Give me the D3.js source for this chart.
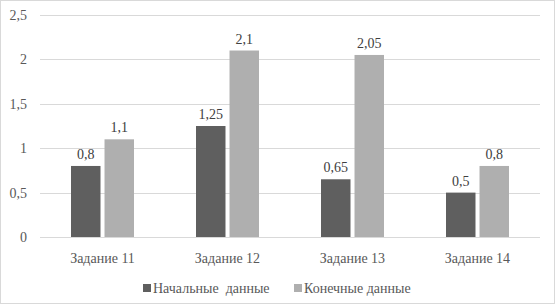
<!DOCTYPE html>
<html>
<head>
<meta charset="utf-8">
<script src="https://cdn.jsdelivr.net/npm/d3@7"></script>
<style>
  body { margin: 0; background: #fff; }
  .chart text { font-family: "Liberation Serif", Tinos, "Noto Serif", "DejaVu Serif", serif; }
</style>
</head>
<body>
<div class="chart"></div>
<script>
const WIDTH = 555
const HEIGHT = 304
const CATEGORIES = ["Задание 11", "Задание 12", "Задание 13", "Задание 14"]
const SERIES = ["Начальные  данные", "Конечные данные"]
const START_VALUES = [0.8, 1.25, 0.65, 0.5]
const END_VALUES = [1.1, 2.1, 2.05, 0.8]
const Y_TICKS = [0, 0.5, 1, 1.5, 2, 2.5]
const COLORS = ["#5f5f5f", "#afafaf"]

const fmt = v => String(v).replace(".", ",")

let svg = d3.select(".chart").append("svg").attr("width", WIDTH).attr("height", HEIGHT);

// border
svg.append("rect").attr("x", 0.5).attr("y", 0.5).attr("width", WIDTH - 1).attr("height", HEIGHT - 1)
  .attr("fill", "#fff").attr("stroke", "#d9d9d9");

// scales
let x0 = d3.scaleBand().domain(CATEGORIES).range([40, 540]);
let x1 = d3.scaleBand().domain([0, 1]).range([0, 63]).paddingInner(0.12);
let y = d3.scaleLinear().domain([0, 2.5]).range([237, 15]);

// grid
svg.append("g").selectAll("line").data(Y_TICKS).join("line")
  .attr("x1", 40).attr("x2", 540)
  .attr("y1", d => Math.round(y(d)) + 0.5).attr("y2", d => Math.round(y(d)) + 0.5)
  .attr("stroke", "#d9d9d9").attr("stroke-width", 1);

// y tick labels
svg.append("g").selectAll("text").data(Y_TICKS).join("text")
  .attr("x", 27).attr("y", d => y(d)).attr("dy", "0.35em")
  .attr("text-anchor", "end").attr("font-size", 14).attr("fill", "#595959")
  .text(fmt);

// bars
let rows = CATEGORIES.map((c, i) => ({ cat: c, vals: [START_VALUES[i], END_VALUES[i]] }));
let groups = svg.append("g").selectAll("g").data(rows).join("g")
  .attr("transform", d => `translate(${x0(d.cat) + (x0.bandwidth() - 63) / 2}, 0)`);

groups.selectAll("rect").data(d => d.vals).join("rect")
  .attr("x", (d, i) => x1(i)).attr("width", x1.bandwidth())
  .attr("y", d => y(d)).attr("height", d => y(0) - y(d))
  .attr("fill", (d, i) => COLORS[i]);

groups.selectAll("text").data(d => d.vals).join("text")
  .attr("x", (d, i) => x1(i) + x1.bandwidth() / 2).attr("y", d => y(d) - 7)
  .attr("text-anchor", "middle").attr("font-size", 14).attr("fill", "#404040")
  .text(fmt);

// category labels
svg.append("g").selectAll("text").data(CATEGORIES).join("text")
  .attr("x", d => x0(d) + x0.bandwidth() / 2).attr("y", 258).attr("dy", "0.35em")
  .attr("text-anchor", "middle").attr("font-size", 14).attr("fill", "#595959")
  .text(d => d);

// legend
let legendX = [143, 294];
let legend = svg.append("g").selectAll("g").data(SERIES).join("g")
  .attr("transform", (d, i) => `translate(${legendX[i]}, 288)`);
legend.append("rect").attr("x", 0).attr("y", -4).attr("width", 8).attr("height", 8)
  .attr("fill", (d, i) => COLORS[i]);
legend.append("text").attr("x", 10).attr("dy", "0.35em").attr("font-size", 14)
  .attr("fill", "#595959").style("white-space", "pre").text(d => d);
</script>
</body>
</html>
